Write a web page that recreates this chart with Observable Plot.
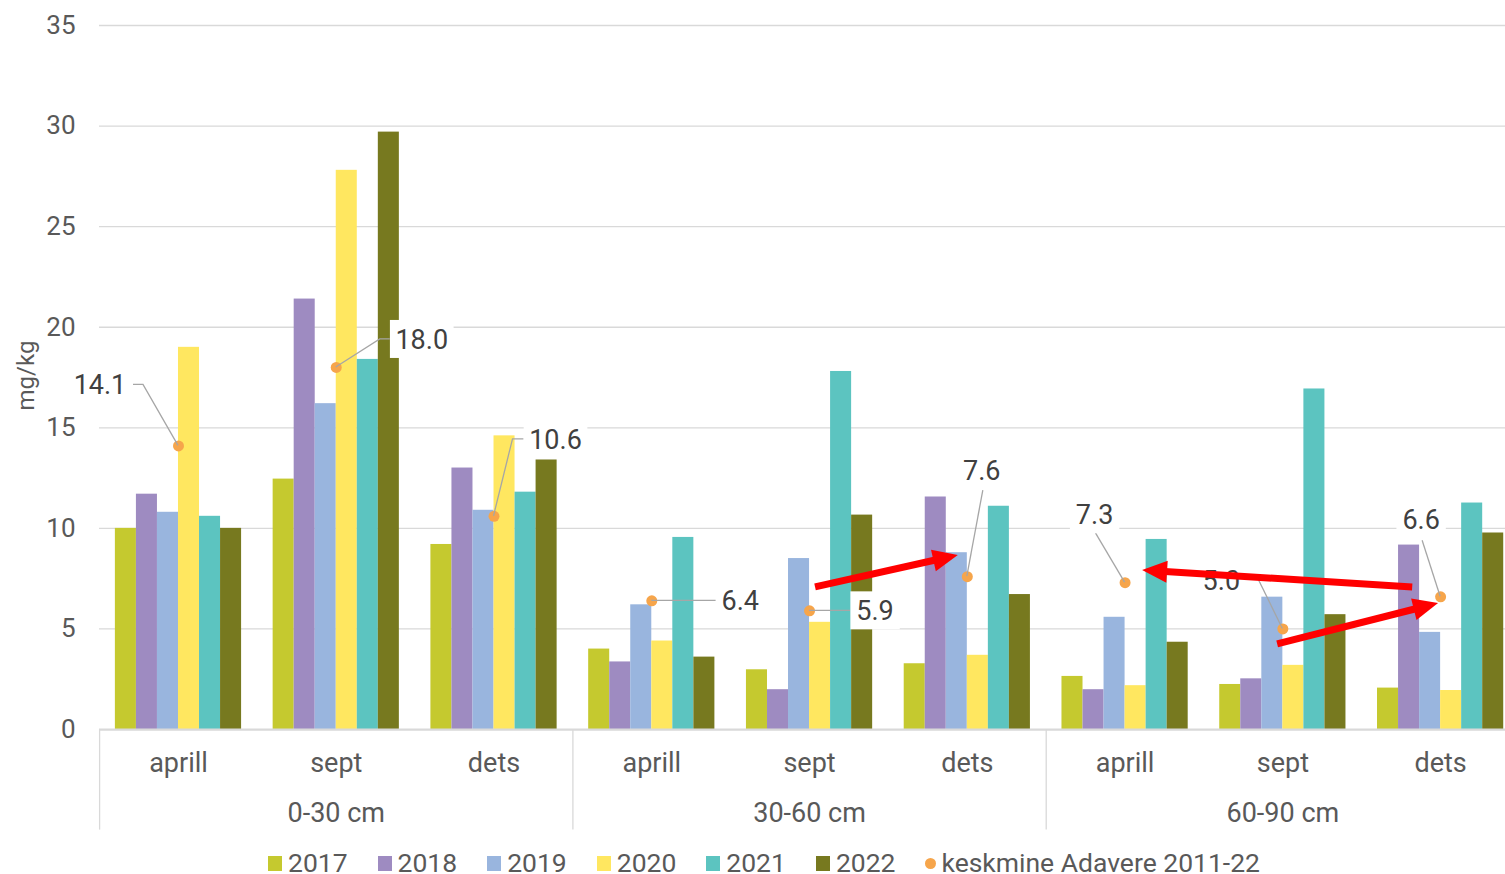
<!DOCTYPE html>
<html>
<head>
<meta charset="utf-8">
<script src="https://cdn.jsdelivr.net/npm/d3@7"></script>
<script src="https://cdn.jsdelivr.net/npm/@observablehq/plot@0.6"></script>
<style>
  html, body { margin: 0; padding: 0; background: #fff; }
  body { font-family: Roboto, "Noto Sans", sans-serif; }
  #legend {
    display: flex; align-items: center; height: 22px; line-height: 22px;
    margin-top: 17px; padding-left: 268px;
    font-size: 26.5px; color: #595959; white-space: nowrap;
  }
  #legend .item { display: flex; align-items: center; margin-right: 30px; }
  #legend .sw { width: 14px; height: 15px; margin-right: 6px; }
  #legend .dot { width: 11px; height: 11px; border-radius: 50%; margin-right: 5px; }
</style>
</head>
<body>
<div id="chart"></div>
<div id="legend"></div>
<script>
// Soil depth layers and sampling months (two-level category axis)
const depths = ["0-30 cm", "30-60 cm", "60-90 cm"];
const months = ["aprill", "sept", "dets"];
const years = ["2017", "2018", "2019", "2020", "2021", "2022"];

// Values per year, in order: 0-30 aprill, sept, dets, 30-60 aprill, sept, dets, 60-90 aprill, sept, dets
const v2017 = [10.0, 12.45, 9.2, 4.0, 2.97, 3.27, 2.64, 2.24, 2.06];
const v2018 = [11.7, 21.4, 13.0, 3.36, 1.98, 11.56, 1.98, 2.52, 9.17];
const v2019 = [10.8, 16.2, 10.9, 6.2, 8.5, 8.79, 5.58, 6.58, 4.83];
const v2020 = [19.0, 27.8, 14.6, 4.4, 5.33, 3.69, 2.18, 3.19, 1.94];
const v2021 = [10.6, 18.4, 11.8, 9.55, 17.8, 11.1, 9.45, 16.93, 11.26];
const v2022 = [10.0, 29.7, 13.4, 3.6, 10.66, 6.71, 4.34, 5.71, 9.77];
const seriesValues = [v2017, v2018, v2019, v2020, v2021, v2022];

// Long-term average, Adavere 2011-22
const avgName = "keskmine Adavere 2011-22";
const avgValues = [14.1, 18.0, 10.6, 6.4, 5.9, 7.6, 7.3, 5.0, 6.6];

const yTicks = [0, 5, 10, 15, 20, 25, 30, 35];
const yLabel = "mg/kg";

// Trend arrows (x in group index units, y in mg/kg)
const arrows = [
  {x1: 4.038, y1: 7.07, x2: 4.943, y2: 8.65},
  {x1: 7.823, y1: 7.06, x2: 6.111, y2: 7.90},
  {x1: 6.967, y1: 4.23, x2: 7.987, y2: 6.26}
];

// ---- styling ----
const colors = ["#c5c92f", "#9e8bc1", "#99b5de", "#ffe760", "#5cc4c0", "#77791f"];
const dotColor = "#f6a54b";
const gridColor = "#d9d9d9";
const axisText = "#595959";
const labelText = "#404040";
const FONT = "Roboto, 'Noto Sans', sans-serif";

// Callout placement for average labels: text centre and leader points, in pixels from the dot
const labelLayout = [
  {dx: -78, dy: -61, leader: [[0, 0], [-35, -61], [-45, -61]]},
  {dx: 86, dy: -28, leader: [[0, 0], [44, -28], [54, -28]]},
  {dx: 62, dy: -77, leader: [[0, 0], [19, -77], [30, -77]]},
  {dx: 89, dy: 0, leader: [[0, 0], [65, 0]]},
  {dx: 66, dy: 0, leader: [[0, 0], [41, 0]]},
  {dx: 15, dy: -106, leader: [[0, 0], [16, -86]]},
  {dx: -30, dy: -68, leader: [[0, 0], [-29, -49]]},
  {dx: -61, dy: -48, leader: [[0, 0], [-24, -49]]},
  {dx: -19, dy: -77, leader: [[0, 0], [-18, -56]]}
];

// ---- tables ----
const nGroups = depths.length * months.length;
const groupSpan = 0.8;
const bw = groupSpan / years.length;

const bars = [];
years.forEach((yr, j) => {
  seriesValues[j].forEach((v, i) => {
    bars.push({
      year: yr, value: v, group: i,
      x1: i - groupSpan / 2 + j * bw,
      x2: i - groupSpan / 2 + (j + 1) * bw
    });
  });
});

const monthCells = d3.range(nGroups).map(i => ({i, text: months[i % months.length]}));
const depthCells = depths.map((d, k) => ({i: k * months.length + (months.length - 1) / 2, text: d}));
const separators = d3.range(0, depths.length + 1).map(k => k * months.length - 0.5);
const avgRows = avgValues.map((v, i) => ({i, v}));

function textWidth(s, size) {
  let w = 0;
  for (const c of s) w += (c === "." ? 0.25 : 0.53) * size;
  return w;
}

// Average labels with leader lines and white boxes
function avgCallouts(index, scales) {
  const g = d3.create("svg:g");
  const size = 27;
  avgValues.forEach((v, i) => {
    const cx = scales.x(i), cy = scales.y(v);
    const L = labelLayout[i];
    g.append("polyline")
      .attr("points", L.leader.map(([dx, dy]) => `${cx + dx},${cy + dy}`).join(" "))
      .attr("fill", "none").attr("stroke", "#a6a6a6").attr("stroke-width", 1.3);
  });
  avgValues.forEach((v, i) => {
    const cx = scales.x(i), cy = scales.y(v);
    const L = labelLayout[i];
    const txt = v.toFixed(1);
    const w = textWidth(txt, size);
    const tx = cx + L.dx, ty = cy + L.dy;
    g.append("rect")
      .attr("x", tx - w / 2 - 7).attr("y", ty - 19)
      .attr("width", w + 14).attr("height", 38)
      .attr("fill", "white");
    g.append("text")
      .attr("x", tx).attr("y", ty)
      .attr("text-anchor", "middle").attr("dy", "0.36em")
      .attr("font-family", FONT).attr("font-size", size)
      .attr("fill", labelText)
      .text(txt);
  });
  return g.node();
}

// Thick red arrows with filled heads
function trendArrows(index, scales) {
  const g = d3.create("svg:g");
  const headLen = 25, headHalf = 11;
  for (const a of arrows) {
    const x1 = scales.x(a.x1), y1 = scales.y(a.y1);
    const x2 = scales.x(a.x2), y2 = scales.y(a.y2);
    const ang = Math.atan2(y2 - y1, x2 - x1);
    const c = Math.cos(ang), s = Math.sin(ang);
    const bx = x2 - headLen * c, by = y2 - headLen * s;
    g.append("line")
      .attr("x1", x1).attr("y1", y1).attr("x2", bx + 2 * c).attr("y2", by + 2 * s)
      .attr("stroke", "#ff0000").attr("stroke-width", 7);
    g.append("path")
      .attr("d", `M${x2},${y2}L${bx - headHalf * s},${by + headHalf * c}L${bx + headHalf * s},${by - headHalf * c}Z`)
      .attr("fill", "#ff0000");
  }
  return g.node();
}

const chart = Plot.plot({
  width: 1505,
  height: 835,
  marginLeft: 99,
  marginRight: 0,
  marginTop: 25,
  marginBottom: 5,
  style: {fontFamily: FONT, background: "white", overflow: "visible"},
  x: {type: "linear", domain: [-0.5, nGroups - 0.5], range: [99.1, 1519], axis: null},
  y: {domain: [-5, 35], range: [829.6, 25], axis: null},
  color: {domain: years, range: colors},
  marks: [
    Plot.ruleY(yTicks.filter(d => d > 0), {y: d => d, stroke: gridColor, strokeWidth: 1.3}),
    Plot.rect(bars, {x1: "x1", x2: "x2", y1: 0, y2: "value", fill: "year"}),
    Plot.ruleY([0], {stroke: gridColor, strokeWidth: 2.2}),
    Plot.ruleX(separators, {x: d => d, y1: 0, y2: -5, stroke: gridColor, strokeWidth: 1.3}),
    Plot.text(yTicks, {x: -0.5, y: d => d, text: d => String(d), dx: -24, textAnchor: "end", fontSize: 26, fill: axisText}),
    Plot.text([yLabel], {x: -0.5, y: 17.6, text: d => d, dx: -73, rotate: -90, fontSize: 24, fill: axisText}),
    Plot.text(monthCells, {x: "i", y: -1.69, text: "text", fontSize: 27, fill: axisText}),
    Plot.text(depthCells, {x: "i", y: -4.18, text: "text", fontSize: 27, fill: axisText}),
    Plot.dot(avgRows, {x: "i", y: "v", r: 5.5, fill: dotColor, stroke: "none"}),
    avgCallouts,
    trendArrows
  ]
});
document.getElementById("chart").appendChild(chart);

// Legend below the chart
const legend = d3.select("#legend");
years.forEach((yr, j) => {
  const it = legend.append("div").attr("class", "item");
  it.append("div").attr("class", "sw").style("background", colors[j]);
  it.append("span").text(yr);
});
const avgItem = legend.append("div").attr("class", "item");
avgItem.append("div").attr("class", "dot").style("background", dotColor);
avgItem.append("span").text(avgName);
</script>
</body>
</html>
